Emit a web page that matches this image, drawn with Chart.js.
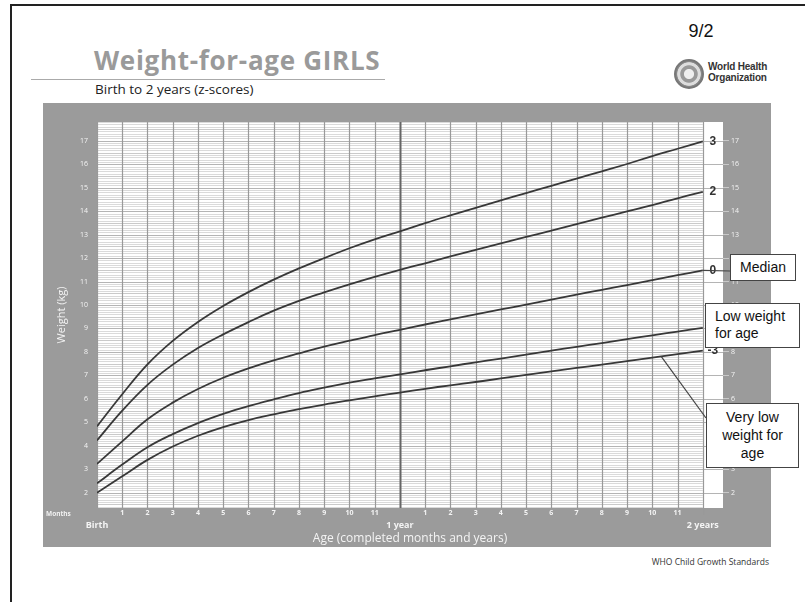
<!DOCTYPE html>
<html>
<head>
<meta charset="utf-8">
<script src="https://cdn.jsdelivr.net/npm/chart.js@4.4.1/dist/chart.umd.min.js"></script>
<style>
  body { margin: 0; width: 805px; height: 602px; background: #fff; position: relative; overflow: hidden; font-family: 'Open Sans', sans-serif; }
  .page-border { position: absolute; left: 10px; top: 4px; width: 820px; height: 620px; border: 2px solid #222; }
  .title { position: absolute; left: 94px; top: 42px; font-size: 26px; font-weight: 700; color: #9a9a9a; letter-spacing: 0.7px; white-space: nowrap; }
  .title-rule { position: absolute; left: 31px; top: 79px; width: 354px; height: 1px; background: #aaa; }
  .subtitle { position: absolute; left: 95px; top: 80px; font-size: 13.5px; color: #222; white-space: nowrap; }
  .slide-no { position: absolute; left: 676px; top: 21px; width: 50px; text-align: center; font-family: 'Liberation Sans', Arial, sans-serif; font-size: 18px; color: #111; }
  .who-emblem { position: absolute; left: 674px; top: 59px; width: 26px; height: 26px; border-radius: 50%; border: 2px solid #777;
    background: radial-gradient(circle, #eee 0 25%, #999 30% 45%, #ddd 50% 62%, #888 66%); }
  .who-text { position: absolute; left: 708px; top: 61px; font-family: 'Liberation Sans', Arial, sans-serif; font-weight: 700; font-size: 10px; line-height: 11px; color: #333; letter-spacing: -0.2px; white-space: nowrap; }
  .frame { position: absolute; left: 43px; top: 103px; width: 728px; height: 444px; background: #9b9b9b; }
  .frame canvas { position: absolute; left: 0; top: 0; }
  .months-lbl { position: absolute; left: 46px; top: 509px; font-size: 6.5px; font-weight: 700; color: #f2f2f2; }
  .source { position: absolute; right: 36px; top: 556px; font-size: 8.5px; color: #333; white-space: nowrap; }
  .note { position: absolute; background: #fff; border: 1px solid #444; font-family: 'Liberation Sans', Arial, sans-serif; font-size: 14px; color: #111; box-sizing: border-box; }
  #boxMedian { left: 730px; top: 254px; width: 66px; height: 27px; text-align: center; line-height: 25px; }
  #boxLow { left: 705px; top: 303px; width: 95px; height: 45px; padding: 4px 0 0 9px; line-height: 17px; }
  #boxVeryLow { left: 706px; top: 403px; width: 93px; height: 65px; text-align: center; padding-top: 4px; line-height: 18px; }
</style>
</head>
<body>
<div class="page-border"></div>
<div class="title">Weight-for-age GIRLS</div>
<div class="title-rule"></div>
<div class="subtitle">Birth to 2 years (z-scores)</div>
<div class="slide-no">9/2</div>
<div class="who-emblem"></div>
<div class="who-text">World Health<br>Organization</div>

<div class="frame"><canvas id="wfaChart" width="728" height="444"></canvas></div>
<div class="months-lbl">Months</div>
<div class="source">WHO Child Growth Standards</div>

<div class="note" id="boxMedian">Median</div>
<div class="note" id="boxLow">Low weight<br>for age</div>
<div class="note" id="boxVeryLow">Very low<br>weight for<br>age</div>

<script>
// ── curves (kg at each completed month)
const months = [0,1,2,3,4,5,6,7,8,9,10,11,12,13,14,15,16,17,18,19,20,21,22,23,24];
const sdNeg3 = [2.00,2.70,3.40,3.97,4.43,4.80,5.10,5.34,5.56,5.76,5.94,6.11,6.27,6.43,6.58,6.72,6.87,7.02,7.17,7.32,7.46,7.61,7.76,7.91,8.06];
const sdNeg2 = [2.40,3.20,3.94,4.50,4.97,5.36,5.69,5.98,6.25,6.48,6.69,6.87,7.04,7.22,7.39,7.56,7.72,7.89,8.06,8.22,8.38,8.55,8.71,8.87,9.03];
const sdZero = [3.23,4.19,5.13,5.84,6.42,6.90,7.30,7.64,7.94,8.23,8.48,8.72,8.94,9.17,9.39,9.60,9.81,10.02,10.23,10.44,10.65,10.85,11.06,11.27,11.48];
const sdPos2 = [4.23,5.50,6.60,7.46,8.17,8.75,9.27,9.76,10.18,10.54,10.88,11.20,11.50,11.78,12.07,12.35,12.63,12.90,13.17,13.45,13.72,13.99,14.26,14.55,14.82];
const sdPos3 = [4.83,6.20,7.47,8.47,9.28,9.96,10.55,11.08,11.56,12.00,12.42,12.80,13.14,13.49,13.82,14.14,14.46,14.77,15.08,15.39,15.70,16.01,16.35,16.66,16.97];

const curveNames = ['3', '2', '0', '-2', '-3'];
const weightTicks = [2,3,4,5,6,7,8,9,10,11,12,13,14,15,16,17];
const monthTickValues = [1,2,3,4,5,6,7,8,9,10,11,13,14,15,16,17,18,19,20,21,22,23];
const monthTickLabels = ['1','2','3','4','5','6','7','8','9','10','11','1','2','3','4','5','6','7','8','9','10','11'];
const yearTickValues = [0, 12, 24];
const yearTickLabels = ['Birth', '1 year', '2 years'];

const X_MIN = 0, X_MAX = 24.8, Y_MIN = 1.35, Y_MAX = 17.8;

Chart.defaults.font.family = "'Open Sans', sans-serif";
Chart.defaults.color = '#f4f4f4';

const toPoints = arr => arr.map((w, i) => ({ x: months[i], y: w }));

// ── WHO style grid: 0.1 kg rules, month columns, white z-score strip
const gridPlugin = {
  id: 'whoGrid',
  beforeDatasetsDraw(chart) {
    const { ctx, chartArea: a, scales: { x, y } } = chart;
    const x24 = x.getPixelForValue(24);
    ctx.save();
    ctx.fillStyle = '#fff';
    ctx.fillRect(a.left, a.top, a.right - a.left, a.bottom - a.top);
    ctx.lineWidth = 1;
    for (let i = Math.ceil(Y_MIN * 10); i <= Math.floor(Y_MAX * 10); i++) {
      const py = Math.round(y.getPixelForValue(i / 10)) + 0.5;
      const whole = i % 10 === 0;
      ctx.strokeStyle = whole ? '#b4b4b4' : (i % 5 === 0 ? '#cacaca' : '#dadada');
      ctx.beginPath();
      ctx.moveTo(a.left, py);
      ctx.lineTo(whole ? a.right : x24, py);
      ctx.stroke();
    }
    for (let m = 0; m <= 24; m++) {
      const px = Math.round(x.getPixelForValue(m)) + 0.5;
      ctx.strokeStyle = m === 12 ? '#666' : '#999';
      ctx.lineWidth = m === 12 ? 2 : 1.2;
      ctx.beginPath();
      ctx.moveTo(px, a.top);
      ctx.lineTo(px, m === 24 ? a.bottom + 7 : a.bottom);
      ctx.stroke();
    }
    ctx.restore();
  }
};

// ── z-score names at the end of each curve + leader lines to the notes
const curveLabelPlugin = {
  id: 'curveLabels',
  afterDatasetsDraw(chart) {
    const { ctx, scales: { x, y } } = chart;
    const cRect = chart.canvas.getBoundingClientRect();
    ctx.save();
    ctx.fillStyle = '#333';
    ctx.font = "bold 12px 'Liberation Sans', Arial, sans-serif";
    ctx.textAlign = 'center';
    ctx.textBaseline = 'middle';
    chart.data.datasets.forEach((ds, i) => {
      const last = ds.data[ds.data.length - 1];
      ctx.fillText(curveNames[i], x.getPixelForValue(24) + 10, y.getPixelForValue(last.y));
    });

    const boxPoint = (id, dy) => {
      const r = document.getElementById(id).getBoundingClientRect();
      return { x: r.left - cRect.left, y: r.top - cRect.top + dy };
    };
    const along = (arr, m) => {
      const i = Math.floor(m);
      return arr[i] + (arr[i + 1] - arr[i]) * (m - i);
    };
    const leaders = [
      { from: { x: x.getPixelForValue(24), y: y.getPixelForValue(sdZero[24]) }, to: boxPoint('boxMedian', 17) },
      { from: { x: x.getPixelForValue(22.35), y: y.getPixelForValue(along(sdNeg3, 22.35)) }, to: boxPoint('boxVeryLow', 15) }
    ];
    ctx.strokeStyle = '#444';
    ctx.lineWidth = 1.2;
    leaders.forEach(l => {
      ctx.beginPath();
      ctx.moveTo(l.from.x, l.from.y);
      ctx.lineTo(l.to.x, l.to.y);
      ctx.stroke();
    });
    ctx.restore();
  }
};

const lineStyle = { borderColor: '#383838', borderWidth: 1.8, pointRadius: 0, tension: 0.4, fill: false };
const fixTicks = (values) => (scale) => { scale.ticks = values.map(v => ({ value: v })); };

new Chart(document.getElementById('wfaChart'), {
  type: 'line',
  data: {
    datasets: [
      { label: '3',  data: toPoints(sdPos3), ...lineStyle },
      { label: '2',  data: toPoints(sdPos2), ...lineStyle },
      { label: '0',  data: toPoints(sdZero), ...lineStyle },
      { label: '-2', data: toPoints(sdNeg2), ...lineStyle },
      { label: '-3', data: toPoints(sdNeg3), ...lineStyle }
    ]
  },
  options: {
    responsive: false,
    animation: false,
    devicePixelRatio: 1,
    layout: { padding: { top: 19, left: 0, right: 0, bottom: 0 } },
    plugins: { legend: { display: false }, tooltip: { enabled: false } },
    scales: {
      x: {
        type: 'linear', position: 'bottom', weight: 0,
        min: X_MIN, max: X_MAX,
        afterBuildTicks: fixTicks(monthTickValues),
        afterFit: s => { s.height = 10; },
        grid: { display: false, drawTicks: false },
        border: { display: false },
        ticks: { autoSkip: false, maxRotation: 0, padding: 1, font: { size: 7, weight: 'bold' },
                 callback: (v, i) => monthTickLabels[i] }
      },
      x2: {
        type: 'linear', position: 'bottom', weight: 1,
        min: X_MIN, max: X_MAX,
        afterBuildTicks: fixTicks(yearTickValues),
        afterFit: s => { s.height = 29; },
        grid: { display: false, drawTicks: false },
        border: { display: false },
        ticks: { autoSkip: false, maxRotation: 0, padding: 2, font: { size: 9, weight: 'bold' },
                 callback: (v, i) => yearTickLabels[i] },
        title: { display: true, text: 'Age (completed months and years)', font: { size: 12 }, padding: { top: 0, bottom: 1 } }
      },
      y: {
        type: 'linear', position: 'left',
        min: Y_MIN, max: Y_MAX,
        afterBuildTicks: fixTicks(weightTicks),
        afterFit: s => { s.width = 54; },
        grid: { display: false, drawTicks: false },
        border: { display: false },
        ticks: { padding: 9, font: { size: 7 } },
        title: { display: true, text: 'Weight (kg)', font: { size: 11 }, padding: { top: 12, bottom: 0 } }
      },
      y2: {
        type: 'linear', position: 'right',
        min: Y_MIN, max: Y_MAX,
        afterBuildTicks: fixTicks(weightTicks),
        afterFit: s => { s.width = 48; },
        grid: { drawOnChartArea: false, drawTicks: true, tickLength: 6, color: '#c8c8c8' },
        border: { display: false },
        ticks: { padding: 2, font: { size: 7 } }
      }
    }
  },
  plugins: [gridPlugin, curveLabelPlugin]
});
</script>
</body>
</html>
